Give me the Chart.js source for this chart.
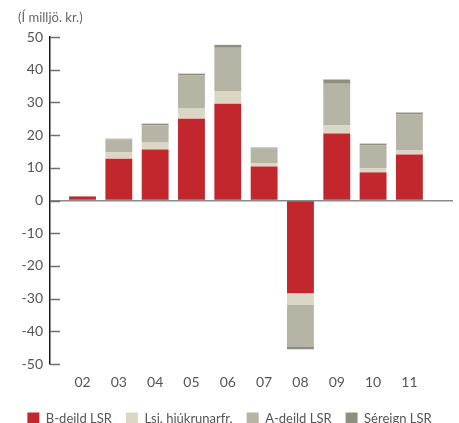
<!DOCTYPE html>
<html>
<head>
<meta charset="utf-8">
<script src="https://cdn.jsdelivr.net/npm/chart.js@4"></script>
<style>
  html, body { margin: 0; padding: 0; background: #fff; overflow: hidden; }
  #wrap { width: 459px; height: 435px; }
</style>
</head>
<body>
<div id="wrap"><canvas id="fundChart" width="459" height="435"></canvas></div>
<script>
// years (x axis)
const years = ['02', '03', '04', '05', '06', '07', '08', '09', '10', '11'];

// series values, millions kr.
const bDeild   = [1.2, 12.8, 15.6, 25.0, 29.6, 10.4, -28.4, 20.5, 8.6, 14.1];
const lsjHjukr = [0.0, 1.9, 2.1, 3.1, 3.7, 0.9, -3.4, 2.4, 1.2, 1.2];
const aDeild   = [0.2, 4.0, 5.3, 10.1, 13.4, 4.6, -12.8, 12.8, 7.0, 11.0];
const sereign  = [0.0, 0.2, 0.5, 0.6, 0.9, 0.3, -0.9, 1.3, 0.6, 0.6];

const yTicks = [-50, -40, -30, -20, -10, 0, 10, 20, 30, 40, 50];

const seriesNames = ['B-deild LSR', 'Lsj. hjúkrunarfr.', 'A-deild LSR', 'Séreign LSR'];
const seriesColors = ['#c1272d', '#dcd7c5', '#b6b4a5', '#8f8f81'];
const unitText = '(Í milljö. kr.)';

function toPoints(arr) {
    return arr.map(function(v, i) { return { x: i, y: v }; });
}

// unit caption top left + little tick marks pointing into the plot
const extras = {
    id: 'extras',
    afterDraw: function(chart) {
        const ctx = chart.ctx;
        const y = chart.scales.y;
        const left = chart.chartArea.left;
        ctx.save();
        ctx.strokeStyle = '#6f6f6f';
        ctx.lineWidth = 1.5;
        yTicks.forEach(function(t) {
            const py = Math.round(y.getPixelForValue(t)) + 0.5;
            ctx.beginPath();
            ctx.moveTo(left, py);
            ctx.lineTo(left + 10, py);
            ctx.stroke();
        });
        ctx.fillStyle = '#666';
        ctx.font = '13px Lato';
        ctx.textBaseline = 'middle';
        ctx.textAlign = 'left';
        ctx.fillText(unitText, 18, 18);
        ctx.restore();
    }
};

const ctx = document.getElementById('fundChart').getContext('2d');
new Chart(ctx, {
    type: 'bar',
    data: {
        datasets: [bDeild, lsjHjukr, aDeild, sereign].map(function(arr, k) {
            return {
                label: seriesNames[k],
                data: toPoints(arr),
                backgroundColor: seriesColors[k],
                borderWidth: 0,
                barPercentage: 0.74,
                categoryPercentage: 1.0
            };
        })
    },
    options: {
        responsive: false,
        animation: false,
        layout: { padding: { left: 0, right: 0, top: 37, bottom: 0 } },
        plugins: {
            tooltip: { enabled: false },
            title: { display: false },
            legend: {
                position: 'bottom',
                labels: {
                    boxWidth: 12,
                    boxHeight: 12,
                    padding: 14,
                    color: '#555',
                    font: { family: 'Lato', size: 13 }
                }
            }
        },
        scales: {
            x: {
                type: 'linear',
                stacked: true,
                offset: false,
                min: -0.895,
                max: 10.2,
                grid: { display: false, drawTicks: false, offset: false },
                border: { display: false },
                // one tick per year, nothing else
                afterBuildTicks: function(scale) {
                    scale.ticks = years.map(function(_, i) { return { value: i }; });
                },
                afterFit: function(scale) { scale.height = 34; },
                ticks: {
                    autoSkip: false,
                    maxRotation: 0,
                    padding: 10,
                    color: '#555',
                    font: { family: 'Lato', size: 14 },
                    callback: function(v) { return years[v] !== undefined ? years[v] : ''; }
                }
            },
            y: {
                stacked: true,
                min: -50,
                max: 50,
                afterFit: function(scale) { scale.width = 50; },
                grid: {
                    drawTicks: false,
                    lineWidth: 1.5,
                    color: function(c) { return c.tick && c.tick.value === 0 ? '#8a8a8a' : 'rgba(0,0,0,0)'; }
                },
                border: { display: true, color: '#1a1a1a', width: 1.5 },
                ticks: {
                    stepSize: 10,
                    padding: 7,
                    color: '#555',
                    font: { family: 'Lato', size: 14 }
                }
            },
            // empty strip on the right so the plot stops short of the edge
            yRight: {
                position: 'right',
                display: true,
                grid: { display: false, drawTicks: false },
                border: { display: false },
                ticks: { display: false },
                afterFit: function(scale) { scale.width = 6; }
            }
        }
    },
    plugins: [extras]
});
</script>
</body>
</html>
